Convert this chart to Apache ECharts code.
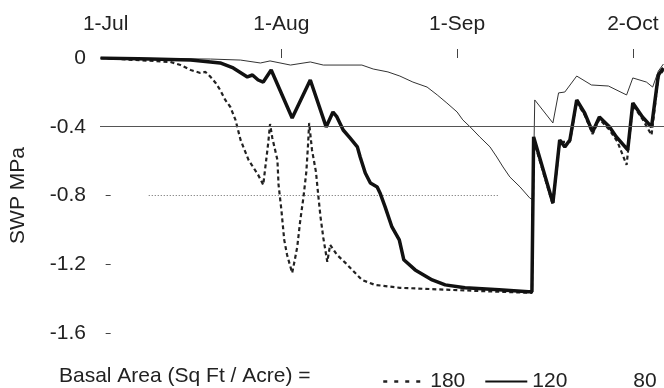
<!DOCTYPE html>
<html>
<head>
    <meta charset="utf-8">
    <title>SWP</title>
    <script src="https://cdn.jsdelivr.net/npm/echarts@6.0.0/dist/echarts.min.js"></script>
    <style>
        html, body { margin: 0; padding: 0; background: #fff; }
    </style>
</head>
<body>
    <div id="main" style="width: 664px;height:388px;"></div>
    <script type="text/javascript">
        // x = days since 1-Jul, y = stem water potential (MPa)
        var xTickDays = [0, 31, 62, 93];
        var xTickLabels = ['1-Jul', '1-Aug', '1-Sep', '2-Oct'];

        // basal area 180 (dashed)
        var days180 = [-0.9, 11.4, 13.2, 15.0, 16.7, 17.6, 18.5, 19.4, 20.2, 21.1, 22.0, 22.9, 23.8, 25.2, 26.9, 27.8,
            28.7, 29.0, 29.4, 30.3, 30.5, 31.0, 31.5, 32.0, 32.9, 33.3, 33.8, 34.3, 34.9, 35.4, 35.7, 35.9, 36.4, 37.1,
            37.5, 37.9, 38.4, 39.1, 39.6, 40.8, 42.3, 43.5, 45.2, 47.5, 51.9, 60.7, 69.5, 74.8, 75.2, 75.5, 78.9, 80.1,
            81.9, 83.1, 84.5, 85.9, 87.1, 88.9, 90.3, 91.9, 93.0, 94.7, 96.3, 97.5, 98.4];
        var swp180 = [0, -0.023, -0.041, -0.070, -0.087, -0.081, -0.110, -0.145, -0.186, -0.244, -0.285, -0.360, -0.477,
            -0.593, -0.680, -0.738, -0.488, -0.384, -0.465, -0.593, -0.738, -0.884, -1.058, -1.145, -1.250, -1.186,
            -1.099, -0.953, -0.808, -0.663, -0.506, -0.378, -0.535, -0.663, -0.797, -0.924, -1.047, -1.186, -1.087,
            -1.145, -1.192, -1.233, -1.291, -1.320, -1.337, -1.349, -1.360, -1.366, -1.366, -0.477, -0.855, -0.488,
            -0.488, -0.256, -0.331, -0.442, -0.355, -0.419, -0.488, -0.622, -0.273, -0.355, -0.448, -0.110, -0.070];

        // basal area 120 (thick solid)
        var days120 = [-0.9, 7.9, 15.0, 18.5, 20.2, 22.5, 25.0, 25.9, 26.9, 27.8, 29.2, 32.9, 36.1, 38.9, 40.1, 40.8,
            41.9, 43.1, 44.4, 44.9, 45.8, 46.7, 47.9, 48.4, 49.3, 50.5, 51.8, 52.6, 54.6, 57.6, 59.9, 63.4, 69.4, 74.6,
            75.2, 75.5, 78.9, 80.1, 81.0, 81.9, 83.1, 84.5, 85.9, 87.1, 88.9, 90.1, 92.1, 93.0, 94.7, 96.3, 97.5, 98.4];
        var swp120 = [0, -0.006, -0.012, -0.023, -0.029, -0.058, -0.110, -0.099, -0.128, -0.140, -0.070, -0.349, -0.128,
            -0.401, -0.314, -0.343, -0.419, -0.465, -0.517, -0.576, -0.669, -0.727, -0.750, -0.785, -0.866, -0.983,
            -1.058, -1.174, -1.233, -1.291, -1.320, -1.337, -1.349, -1.360, -1.360, -0.459, -0.843, -0.477, -0.517,
            -0.477, -0.244, -0.320, -0.430, -0.343, -0.401, -0.459, -0.535, -0.262, -0.343, -0.401, -0.099, -0.058];

        // basal area 80 (thin)
        var days80 = [-0.9, 18.5, 23.8, 27.3, 29.0, 32.6, 36.1, 38.4, 45.2, 47.2, 49.8, 51.9, 54.2, 56.7, 58.5, 60.2,
            62.0, 63.0, 64.3, 66.0, 67.8, 69.0, 70.1, 71.3, 73.1, 74.8, 75.4, 75.7, 78.9, 79.9, 81.0, 83.1, 85.7, 88.7,
            91.9, 93.0, 95.4, 96.5, 97.5, 98.4];
        var swp80 = [0, -0.006, -0.012, -0.029, -0.017, -0.041, -0.023, -0.041, -0.041, -0.064, -0.081, -0.105, -0.140,
            -0.169, -0.215, -0.262, -0.314, -0.360, -0.401, -0.459, -0.517, -0.576, -0.634, -0.692, -0.750, -0.814,
            -0.826, -0.244, -0.378, -0.203, -0.198, -0.105, -0.157, -0.163, -0.215, -0.116, -0.140, -0.169, -0.076,
            -0.035];

        // reference lines
        var refSolid = -0.4;
        var refDottedDays = [7.6, 69.5];
        var refDotted = -0.8;

        function pairs(xs, ys) {
            var out = [];
            for (var i = 0; i < xs.length; i++) out.push([xs[i], ys[i]]);
            return out;
        }

        var myChart = echarts.init(document.getElementById('main'));
        var font = 'Liberation Sans';

        var option = {
            animation: false,
            backgroundColor: '#fff',
            textStyle: { fontFamily: font, color: '#222' },
            grid: { left: 99, right: 0, top: 58, bottom: 55 },
            xAxis: {
                type: 'value',
                position: 'top',
                min: -1,
                max: 98.5,
                axisLine: { show: false },
                splitLine: { show: false },
                axisTick: {
                    show: true,
                    length: 9,
                    customValues: xTickDays.slice(1),
                    lineStyle: { color: '#444', width: 1 }
                },
                axisLabel: {
                    customValues: xTickDays,
                    margin: 23,
                    fontSize: 21,
                    fontFamily: font,
                    color: '#222',
                    formatter: function (v) {
                        var i = xTickDays.indexOf(v);
                        return i >= 0 ? xTickLabels[i] : '';
                    }
                }
            },
            yAxis: {
                type: 'value',
                min: -1.6,
                max: 0,
                interval: 0.4,
                name: 'SWP MPa',
                nameLocation: 'middle',
                nameRotate: 90,
                nameGap: 71,
                nameTextStyle: { fontSize: 21, fontFamily: font, color: '#222' },
                axisLine: { show: false },
                splitLine: { show: false },
                axisTick: { show: true, inside: true, length: 5, lineStyle: { color: '#444' } },
                axisLabel: { margin: 14, fontSize: 21, fontFamily: font, color: '#222' }
            },
            legend: {
                left: 377,
                top: 366,
                itemWidth: 42,
                itemHeight: 14,
                itemGap: 19,
                selectedMode: false,
                itemStyle: { opacity: 0 },
                textStyle: { fontSize: 21, fontFamily: font, color: '#222' },
                data: [
                    { name: '180', itemStyle: { opacity: 0 }, lineStyle: { type: [4, 7], width: 2.5, color: '#222' } },
                    { name: '120', itemStyle: { opacity: 0 }, lineStyle: { width: 2, color: '#111' } },
                    { name: '80', icon: 'none' }
                ]
            },
            graphic: [{
                type: 'text',
                left: 59,
                top: 366,
                style: {
                    text: 'Basal Area (Sq Ft / Acre) =',
                    fontSize: 21,
                    fontFamily: font,
                    fill: '#222'
                }
            }],
            series: [
                {
                    name: 'ref',
                    type: 'line',
                    symbol: 'none',
                    silent: true,
                    color: '#666',
                    data: pairs(refDottedDays, [refDotted, refDotted]),
                    lineStyle: { color: '#666', width: 1, type: [1, 2] },
                    markLine: {
                        silent: true,
                        symbol: 'none',
                        label: { show: false },
                        lineStyle: { color: '#555', width: 1.2, type: 'solid' },
                        data: [{ yAxis: refSolid }]
                    }
                },
                {
                    name: '80',
                    type: 'line',
                    symbol: 'none',
                    color: '#333',
                    data: pairs(days80, swp80),
                    lineStyle: { color: '#333', width: 1 }
                },
                {
                    name: '180',
                    type: 'line',
                    symbol: 'none',
                    color: '#222',
                    data: pairs(days180, swp180),
                    lineStyle: { color: '#222', width: 2.2, type: [4, 3] }
                },
                {
                    name: '120',
                    type: 'line',
                    symbol: 'none',
                    color: '#111',
                    data: pairs(days120, swp120),
                    lineStyle: { color: '#111', width: 3.5 }
                }
            ]
        };

        myChart.setOption(option);
    </script>
</body>
</html>
